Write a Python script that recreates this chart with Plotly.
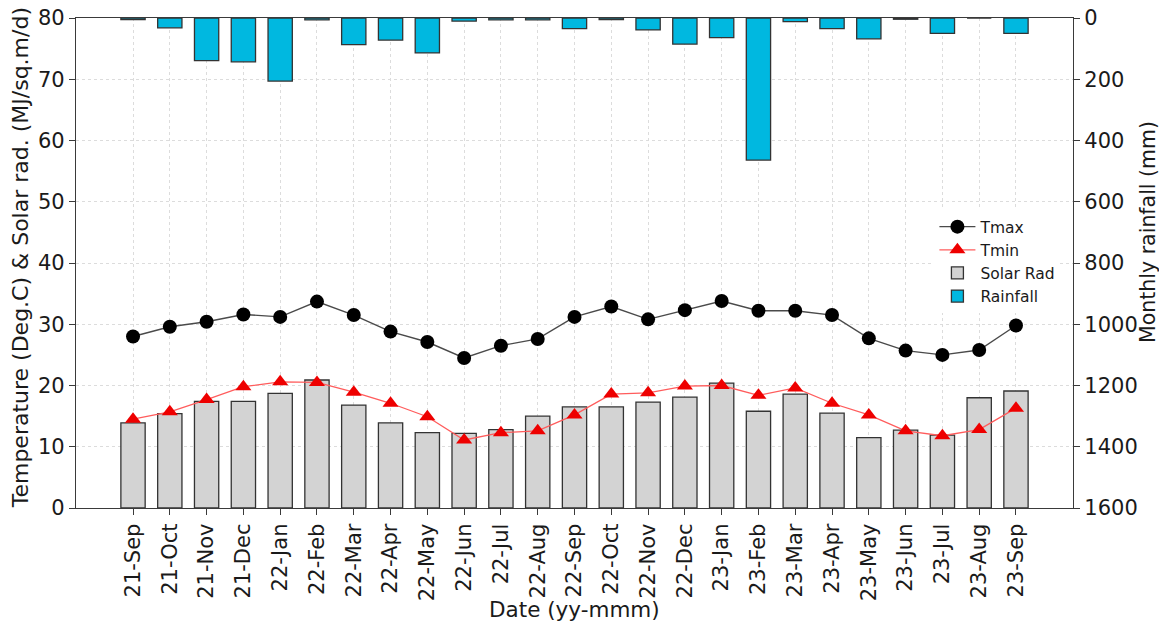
import plotly.graph_objects as go

# Monthly climate record, Sep 2021 - Sep 2023
months = ["21-Sep", "21-Oct", "21-Nov", "21-Dec", "22-Jan", "22-Feb", "22-Mar",
          "22-Apr", "22-May", "22-Jun", "22-Jul", "22-Aug", "22-Sep", "22-Oct",
          "22-Nov", "22-Dec", "23-Jan", "23-Feb", "23-Mar", "23-Apr", "23-May",
          "23-Jun", "23-Jul", "23-Aug", "23-Sep"]

tmax = [28.0, 29.6, 30.4, 31.6, 31.2, 33.7, 31.5, 28.8, 27.1, 24.5, 26.5, 27.6, 31.2,
        32.9, 30.8, 32.3, 33.8, 32.2, 32.2, 31.5, 27.7, 25.7, 25.0, 25.8, 29.8]

tmin = [14.5, 15.7, 17.7, 19.8, 20.6, 20.5, 18.9, 17.1, 14.9, 11.1, 12.3, 12.6, 15.2,
        18.6, 18.8, 19.9, 20.0, 18.4, 19.6, 17.1, 15.2, 12.6, 11.8, 12.8, 16.3]

solar_rad = [13.9, 15.4, 17.4, 17.4, 18.7, 20.9, 16.8, 13.9, 12.3, 12.2, 12.8, 15.0, 16.5,
             16.5, 17.3, 18.1, 20.4, 15.8, 18.6, 15.5, 11.5, 12.7, 11.9, 18.0, 19.1]

rainfall = [5, 32, 139, 143, 206, 6, 87, 72, 114, 10, 6, 6, 35,
            5, 39, 85, 64, 464, 12, 35, 68, 4, 50, 0, 50]

left_ticks = [0, 10, 20, 30, 40, 50, 60, 70, 80]
right_ticks = [0, 200, 400, 600, 800, 1000, 1200, 1400, 1600]

FONT = "DejaVu Sans"
TEXT_COLOR = "#1a1a1a"
AXIS_COLOR = "#3a3a3a"
GRID_COLOR = "#dcdcdc"

x_idx = list(range(len(months)))

fig = go.Figure()

fig.add_trace(go.Bar(
    x=x_idx, y=solar_rad, name="Solar Rad", width=0.66,
    marker=dict(color="#d3d3d3", line=dict(color="#333333", width=1.3)),
    legendrank=3, yaxis="y",
))

fig.add_trace(go.Bar(
    x=x_idx, y=rainfall, name="Rainfall", width=0.66,
    marker=dict(color="#00b8e0", line=dict(color="#333333", width=1.3)),
    legendrank=4, yaxis="y2",
))

fig.add_trace(go.Scatter(
    x=x_idx, y=tmax, name="Tmax", mode="lines+markers",
    line=dict(color="#4a4a4a", width=1.4),
    marker=dict(symbol="circle", size=14, color="black"),
    legendrank=1, yaxis="y",
))

fig.add_trace(go.Scatter(
    x=x_idx, y=tmin, name="Tmin", mode="lines+markers",
    line=dict(color="#ff5c5c", width=1.3),
    marker=dict(symbol="triangle-up", size=14, color="#ee0000"),
    legendrank=2, yaxis="y",
))

# Axis titles placed as rotated/plain annotations in paper coordinates
fig.add_annotation(
    text="Temperature (Deg.C) & Solar rad. (MJ/sq.m/d)",
    xref="paper", yref="paper", x=-0.056, y=0.51,
    xanchor="center", yanchor="middle", textangle=-90, showarrow=False,
    font=dict(family=FONT, size=22, color=TEXT_COLOR),
)
fig.add_annotation(
    text="Monthly rainfall (mm)",
    xref="paper", yref="paper", x=1.075, y=0.563,
    xanchor="center", yanchor="middle", textangle=-90, showarrow=False,
    font=dict(family=FONT, size=20.5, color=TEXT_COLOR),
)
fig.add_annotation(
    text="Date (yy-mmm)",
    xref="paper", yref="paper", x=0.5, y=-0.208,
    xanchor="center", yanchor="middle", showarrow=False,
    font=dict(family=FONT, size=21.5, color=TEXT_COLOR),
)

fig.update_layout(
    width=1159, height=624,
    margin=dict(l=76, r=86, t=18, b=116, autoexpand=False),
    paper_bgcolor="white", plot_bgcolor="white",
    barmode="overlay",
    font=dict(family=FONT, size=21, color=TEXT_COLOR),
    showlegend=True,
    legend=dict(
        x=0.861, y=0.608, xanchor="left", yanchor="top",
        bgcolor="white", borderwidth=0,
        font=dict(family=FONT, size=15.5, color=TEXT_COLOR),
        tracegroupgap=0, itemwidth=36,
    ),
    xaxis=dict(
        range=[-1.55, len(months) - 1 + 1.55],
        tickmode="array", tickvals=x_idx, ticktext=months,
        tickangle=-90, ticks="outside", ticklen=6, tickcolor=AXIS_COLOR,
        showline=True, linecolor=AXIS_COLOR, linewidth=1.3, mirror=True,
        showgrid=True, gridcolor=GRID_COLOR, griddash="dot", gridwidth=1,
        tickfont=dict(family=FONT, size=21),
        automargin=False, zeroline=False,
    ),
    yaxis=dict(
        range=[0, 80], tickvals=left_ticks,
        ticks="outside", ticklen=6, tickcolor=AXIS_COLOR,
        showline=True, linecolor=AXIS_COLOR, linewidth=1.3,
        showgrid=True, gridcolor=GRID_COLOR, griddash="dot", gridwidth=1,
        tickfont=dict(family=FONT, size=21),
        automargin=False, zeroline=False,
    ),
    yaxis2=dict(
        range=[1600, 0], tickvals=right_ticks, overlaying="y", side="right",
        ticks="outside", ticklen=6, tickcolor=AXIS_COLOR,
        showline=True, linecolor=AXIS_COLOR, linewidth=1.3,
        showgrid=False,
        tickfont=dict(family=FONT, size=21),
        automargin=False, zeroline=False,
    ),
)

fig.write_html("out.html")
